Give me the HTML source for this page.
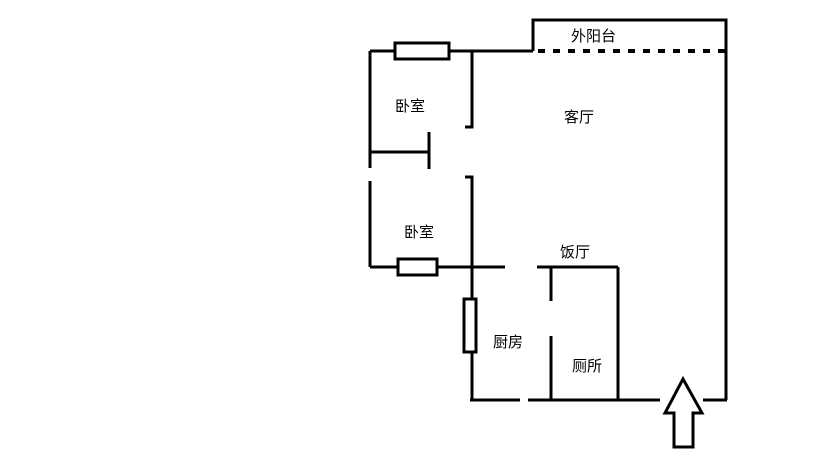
<!DOCTYPE html>
<html><head><meta charset="utf-8"><style>
html,body{margin:0;padding:0;background:#fff;}
svg text{font-family:"Liberation Sans","Noto Sans CJK SC",sans-serif;font-size:15px;fill:#000;}
</style></head><body>
<svg width="816" height="460" viewBox="0 0 816 460" xmlns="http://www.w3.org/2000/svg">
<g stroke="#000" stroke-width="3" fill="none">
<line x1="370" y1="51" x2="533" y2="51"/>
<polyline points="533,51 533,20 726,20 726,400"/>
<line x1="538" y1="51" x2="726" y2="51" stroke-dasharray="7,8" stroke-width="4"/>
<line x1="370" y1="51" x2="370" y2="168"/>
<line x1="370" y1="181" x2="370" y2="267"/>
<polyline points="472,51 472,127 465,127"/>
<line x1="370" y1="152" x2="429" y2="152"/>
<line x1="429" y1="132" x2="429" y2="169"/>
<polyline points="465,177 472,177 472,400"/>
<line x1="370" y1="267" x2="505" y2="267"/>
<line x1="537" y1="267" x2="618" y2="267"/>
<line x1="618" y1="267" x2="618" y2="400"/>
<line x1="551" y1="267" x2="551" y2="301"/>
<line x1="551" y1="336" x2="551" y2="400"/>
<line x1="470" y1="400" x2="520" y2="400"/>
<line x1="528" y1="400" x2="660" y2="400"/>
<line x1="703" y1="400" x2="727" y2="400"/>
<rect x="395" y="43" width="54" height="16" fill="#fff"/>
<rect x="398" y="259" width="39" height="16" fill="#fff"/>
<rect x="464" y="299" width="12" height="53" fill="#fff"/>
<polygon points="683,379 665,413 674,413 674,447 693,447 693,413 702,413" fill="#fff"/>
</g>
<text x="571" y="41">外阳台</text>
<text x="564" y="122">客厅</text>
<text x="395" y="111">卧室</text>
<text x="404" y="237">卧室</text>
<text x="560" y="257">饭厅</text>
<text x="493" y="347">厨房</text>
<text x="572" y="371">厕所</text>
</svg>
</body></html>
